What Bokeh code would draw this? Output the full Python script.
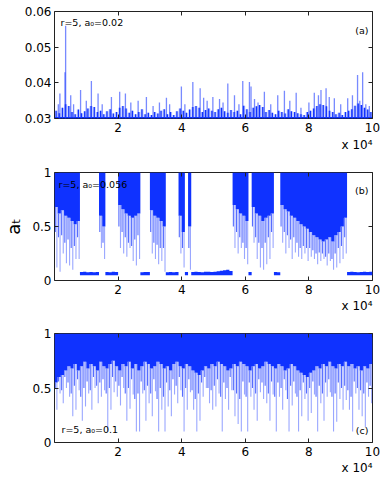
from bokeh.plotting import figure
from bokeh.models import Range1d, FixedTicker, LinearAxis, Label, ColumnDataSource, Title
from bokeh.layouts import column
from bokeh.embed import file_html
from bokeh.resources import INLINE

FONT = "DejaVu Sans"
DENSE = "#0f32ff"
SPIKE = "#1e3cff"

# time axis in units of 10^4 steps; each bin covers 1000 steps
bin_x = [i / 10 + 0.05 for i in range(100)]
bin_edges = [i / 10 for i in range(101)]
x_ticks = [2, 4, 6, 8, 10]

# ---------------- panel (a): r=5, a0=0.02 ----------------
a_floor = [
    0.0322, 0.0315, 0.0330, 0.0340, 0.0335, 0.0318, 0.0312, 0.0325, 0.0315, 0.0320,
    0.0328, 0.0335, 0.0332, 0.0318, 0.0322, 0.0312, 0.0320, 0.0326, 0.0314, 0.0318,
    0.0330, 0.0335, 0.0328, 0.0316, 0.0322, 0.0312, 0.0318, 0.0326, 0.0312, 0.0316,
    0.0310, 0.0318, 0.0314, 0.0322, 0.0326, 0.0312, 0.0318, 0.0310, 0.0320, 0.0328,
    0.0322, 0.0316, 0.0325, 0.0332, 0.0335, 0.0330, 0.0318, 0.0324, 0.0328, 0.0322,
    0.0318, 0.0326, 0.0330, 0.0320, 0.0316, 0.0324, 0.0318, 0.0322, 0.0312, 0.0336,
    0.0326, 0.0318, 0.0330, 0.0334, 0.0338, 0.0332, 0.0318, 0.0324, 0.0316, 0.0312,
    0.0322, 0.0318, 0.0314, 0.0326, 0.0320, 0.0318, 0.0315, 0.0312, 0.0310, 0.0318,
    0.0322, 0.0328, 0.0335, 0.0340, 0.0338, 0.0334, 0.0322, 0.0318, 0.0312, 0.0316,
    0.0310, 0.0318, 0.0322, 0.0326, 0.0336, 0.0342, 0.0338, 0.0330, 0.0325, 0.0318,
]
a_base = 0.0304
a_peak_x = [0.12, 0.17, 0.33, 0.35, 0.51, 0.60, 0.82, 1.00, 1.16, 1.37, 1.50, 1.79,
            2.05, 2.23, 2.40, 2.63, 2.89, 3.10, 3.30, 3.52, 3.62, 3.99, 4.10, 4.35,
            4.58, 4.69, 4.80, 4.98, 5.19, 5.30, 5.45, 5.66, 5.80, 5.92, 6.13, 6.18,
            6.29, 6.40, 6.60, 6.80, 7.02, 7.23, 7.40, 7.60, 7.75, 8.00, 8.17, 8.30,
            8.38, 8.54, 8.64, 8.80, 9.00, 9.22, 9.37, 9.53, 9.60, 9.69, 9.79, 9.90]
a_peak_y = [0.0340, 0.0370, 0.0430, 0.0560, 0.0365, 0.0340, 0.0380, 0.0350, 0.0405, 0.0370, 0.0340, 0.0360,
            0.0375, 0.0370, 0.0345, 0.0350, 0.0360, 0.0335, 0.0345, 0.0358, 0.0340, 0.0390, 0.0340, 0.0402,
            0.0385, 0.0358, 0.0350, 0.0360, 0.0355, 0.0345, 0.0398, 0.0365, 0.0340, 0.0405, 0.0402, 0.0390,
            0.0355, 0.0345, 0.0375, 0.0340, 0.0365, 0.0378, 0.0350, 0.0372, 0.0330, 0.0345, 0.0372, 0.0365,
            0.0380, 0.0385, 0.0360, 0.0357, 0.0340, 0.0357, 0.0365, 0.0422, 0.0350, 0.0430, 0.0340, 0.0335]

# ---------------- panel (b): r=5, a0=0.056 ----------------
b_top = [1, 1, 1, 1, 1, 1, 1, 1,
         0.078, 0.080, 0.076, 0.078, 0.077, 0.079,
         1, 1,
         0.078, 0.076, 0.080, 0.078,
         1, 1, 1, 1, 1, 1, 1,
         0.077, 0.078, 0.079,
         1, 1, 1, 1, 1,
         0.076, 0.078, 0.077, 0.079,
         1, 1,
         0.078,
         1,
         0.078, 0.080, 0.079, 0.077, 0.080, 0.082, 0.079, 0.081, 0.085, 0.090, 0.095, 0.100, 0.088,
         1, 1, 1, 1, 1,
         0.078,
         1, 1, 1, 1, 1, 1, 1,
         0.079, 0.077,
         1, 1, 1, 1, 1, 1, 1, 1, 1, 1, 1, 1, 1, 1, 1, 1, 1, 1, 1, 1, 1,
         0.078, 0.080, 0.078, 0.077, 0.079, 0.082, 0.078, 0.080]
b_low = [0.68, 0.62, 0.65, 0.60, 0.58, 0.55, 0.52, 0.55,
         0.048, 0.048, 0.048, 0.048, 0.048, 0.048,
         0.60, 0.50,
         0.048, 0.048, 0.048, 0.048,
         0.70, 0.66, 0.62, 0.60, 0.58, 0.60, 0.62,
         0.048, 0.048, 0.048,
         0.65, 0.60, 0.58, 0.55, 0.50,
         0.048, 0.048, 0.048, 0.048,
         0.60, 0.45,
         0.048,
         0.50,
         0.048, 0.048, 0.048, 0.048, 0.048, 0.048, 0.048, 0.048, 0.048, 0.048, 0.048, 0.048, 0.048,
         0.70, 0.66, 0.62, 0.60, 0.55,
         0.048,
         0.68, 0.62, 0.60, 0.55, 0.58, 0.60, 0.62,
         0.048, 0.048,
         0.70, 0.66, 0.64, 0.60, 0.58, 0.55, 0.52, 0.50, 0.48, 0.45, 0.42, 0.40, 0.38, 0.36, 0.38, 0.40, 0.36, 0.42, 0.45, 0.50, 0.58,
         0.048, 0.048, 0.048, 0.048, 0.048, 0.048, 0.048, 0.048]
b_mid = [0.45, 0.40, 0.42, 0.35, 0.38, 0.30, 0.32, 0.40,
         0.048, 0.048, 0.048, 0.048, 0.048, 0.048,
         0.45, 0.35,
         0.048, 0.048, 0.048, 0.048,
         0.50, 0.45, 0.40, 0.35, 0.32, 0.38, 0.42,
         0.048, 0.048, 0.048,
         0.45, 0.35, 0.33, 0.30, 0.30,
         0.048, 0.048, 0.048, 0.048,
         0.40, 0.30,
         0.048,
         0.30,
         0.048, 0.048, 0.048, 0.048, 0.048, 0.048, 0.048, 0.048, 0.048, 0.048, 0.048, 0.048, 0.048,
         0.50, 0.45, 0.40, 0.35, 0.30,
         0.048,
         0.50, 0.40, 0.35, 0.30, 0.35, 0.40, 0.45,
         0.048, 0.048,
         0.50, 0.45, 0.42, 0.38, 0.40, 0.35, 0.30, 0.32, 0.30, 0.30, 0.28, 0.25, 0.26, 0.25, 0.22, 0.25, 0.20, 0.25, 0.30, 0.32, 0.40,
         0.048, 0.048, 0.048, 0.048, 0.048, 0.048, 0.048, 0.048]
b_min = [0.12, 0.08, 0.25, 0.16, 0.14, 0.10, 0.20, 0.20,
         0.048, 0.048, 0.048, 0.048, 0.048, 0.048,
         0.30, 0.20,
         0.048, 0.048, 0.048, 0.048,
         0.30, 0.25, 0.22, 0.30, 0.18, 0.14, 0.20,
         0.048, 0.048, 0.048,
         0.25, 0.20, 0.15, 0.18, 0.08,
         0.048, 0.048, 0.048, 0.048,
         0.25, 0.12,
         0.048,
         0.10,
         0.048, 0.048, 0.048, 0.048, 0.048, 0.048, 0.048, 0.048, 0.048, 0.048, 0.048, 0.048, 0.048,
         0.30, 0.25, 0.30, 0.20, 0.15,
         0.048,
         0.35, 0.20, 0.12, 0.10, 0.15, 0.20, 0.30,
         0.048, 0.048,
         0.35, 0.25, 0.30, 0.20, 0.26, 0.22, 0.20, 0.25, 0.18, 0.22, 0.20, 0.15, 0.18, 0.20, 0.14, 0.18, 0.10, 0.12, 0.16, 0.20, 0.25,
         0.048, 0.048, 0.048, 0.048, 0.048, 0.048, 0.048, 0.048]

# ---------------- panel (c): r=5, a0=0.1 ----------------
c_top = [1.0] * 100
c_low = [0.55, 0.60, 0.62, 0.66,
         0.70, 0.68, 0.72, 0.66, 0.70, 0.74, 0.68,
         0.72, 0.70, 0.66, 0.74, 0.70, 0.68, 0.72, 0.75, 0.70, 0.66,
         0.72, 0.70, 0.74, 0.68, 0.72, 0.66, 0.70, 0.74, 0.72, 0.68,
         0.70, 0.74, 0.72, 0.68, 0.70, 0.66, 0.72, 0.74, 0.70, 0.68,
         0.72, 0.70, 0.66, 0.64, 0.62, 0.66, 0.70, 0.68, 0.72, 0.70,
         0.74, 0.72, 0.70, 0.66, 0.68, 0.72, 0.70, 0.74, 0.72, 0.70,
         0.66, 0.70, 0.72, 0.68, 0.70, 0.74, 0.72, 0.70, 0.68, 0.72,
         0.70, 0.66, 0.68, 0.72, 0.70, 0.66, 0.64, 0.62, 0.60, 0.64,
         0.66, 0.70, 0.68, 0.72, 0.70, 0.74, 0.70, 0.68, 0.72, 0.70,
         0.74, 0.70, 0.72, 0.68, 0.70, 0.66, 0.70, 0.68, 0.72]
c_mid = [0.50, 0.56, 0.48, 0.60, 0.55, 0.45, 0.52, 0.58, 0.42, 0.50,
         0.56, 0.48, 0.60, 0.52, 0.55, 0.58, 0.45, 0.50, 0.60, 0.56,
         0.52, 0.60, 0.45, 0.50, 0.58, 0.40, 0.45, 0.56, 0.48, 0.52,
         0.45, 0.58, 0.40, 0.50, 0.42, 0.55, 0.48, 0.58, 0.52, 0.60,
         0.42, 0.50, 0.58, 0.48, 0.40, 0.45, 0.55, 0.60, 0.50, 0.48,
         0.52, 0.58, 0.42, 0.55, 0.50, 0.60, 0.48, 0.45, 0.40, 0.56,
         0.42, 0.55, 0.50, 0.45, 0.58, 0.55, 0.52, 0.45, 0.56, 0.42,
         0.55, 0.50, 0.58, 0.40, 0.52, 0.56, 0.42, 0.48, 0.55, 0.45,
         0.50, 0.56, 0.42, 0.52, 0.45, 0.55, 0.58, 0.42, 0.45, 0.55,
         0.50, 0.52, 0.48, 0.42, 0.56, 0.50, 0.48, 0.45, 0.55, 0.52]
c_min = [0.30, 0.45, 0.36, 0.50, 0.42, 0.24, 0.30, 0.48, 0.20, 0.33,
         0.45, 0.30, 0.50, 0.36, 0.42, 0.48, 0.10, 0.30, 0.46, 0.42,
         0.34, 0.50, 0.20, 0.31, 0.44, 0.10, 0.10, 0.45, 0.20, 0.36,
         0.24, 0.47, 0.10, 0.30, 0.10, 0.33, 0.24, 0.44, 0.36, 0.48,
         0.10, 0.30, 0.46, 0.30, 0.10, 0.20, 0.42, 0.50, 0.36, 0.30,
         0.33, 0.45, 0.10, 0.40, 0.30, 0.48, 0.24, 0.17, 0.10, 0.44,
         0.10, 0.42, 0.30, 0.20, 0.46, 0.40, 0.36, 0.20, 0.44, 0.10,
         0.42, 0.30, 0.48, 0.10, 0.34, 0.45, 0.10, 0.24, 0.40, 0.20,
         0.27, 0.44, 0.10, 0.36, 0.20, 0.42, 0.46, 0.10, 0.19, 0.40,
         0.30, 0.39, 0.30, 0.10, 0.45, 0.30, 0.24, 0.14, 0.42, 0.36]


def panel(height, top, bottom, y0, y1, yticks, ylabels, title_standoff):
    p = figure(width=382, height=height, x_range=Range1d(0, 10), y_range=Range1d(y0, y1),
               output_backend="svg", toolbar_location=None,
               min_border_left=53, min_border_right=10, min_border_top=top, min_border_bottom=bottom)
    p.grid.visible = False
    p.outline_line_color = "#222222"
    p.outline_line_width = 1
    p.background_fill_color = "white"
    p.border_fill_color = "white"
    for ax in p.xaxis:
        ax.ticker = FixedTicker(ticks=x_ticks)
        ax.major_label_standoff = 4
    for ax in p.yaxis:
        ax.ticker = FixedTicker(ticks=yticks)
        ax.major_label_overrides = ylabels
        ax.major_label_standoff = 3
    for ax in list(p.xaxis) + list(p.yaxis):
        ax.major_tick_in = 4
        ax.major_tick_out = 0
        ax.minor_tick_line_color = None
        ax.axis_line_color = None
        ax.major_tick_line_color = "#222222"
        ax.major_label_text_font = FONT
        ax.major_label_text_font_size = "12px"
        ax.major_label_text_color = "black"
    for loc, tk in (("right", yticks), ("above", x_ticks)):
        m = LinearAxis(ticker=FixedTicker(ticks=tk), major_tick_in=4, major_tick_out=0,
                       minor_tick_line_color=None, axis_line_color=None,
                       major_tick_line_color="#222222", major_label_text_font_size="0px",
                       major_label_standoff=0)
        m.major_label_overrides = {t: "" for t in tk}
        p.add_layout(m, loc)
    p.add_layout(Title(text="x 10⁴", align="right", text_font=FONT, text_font_size="12px",
                       text_font_style="normal", text_color="black", standoff=title_standoff), "below")
    return p


def ann(p, text, x, y, x_units="screen", y_units="screen", align="left", size="9.5px", x_offset=0):
    p.add_layout(Label(x=x, y=y, x_units=x_units, y_units=y_units, text=text, text_align=align,
                       text_baseline="middle", text_font=FONT, text_font_size=size,
                       text_color="black", x_offset=x_offset))


def stepped(values):
    # per-bin values held over each bin, closed at the right edge
    return list(values) + [values[-1]]


# panel (a)
pa = panel(160, 11, 42, 0.03, 0.06, [0.03, 0.04, 0.05, 0.06],
           {0.03: "0.03", 0.04: "0.04", 0.05: "0.05", 0.06: "0.06"}, 3)
src_a_area = ColumnDataSource(dict(x=bin_edges, y=stepped(a_floor), base=[0.03] * 101, b2=[a_base] * 101))
pa.varea_step(x="x", y1="base", y2="y", step_mode="after", source=src_a_area, fill_color=DENSE, fill_alpha=0.22)
pa.varea_step(x="x", y1="base", y2="b2", step_mode="after", source=src_a_area, fill_color=DENSE)
src_a = ColumnDataSource(dict(x=bin_x, y=a_floor, base=[0.03] * len(bin_x)))
pa.segment(x0="x", y0="base", x1="x", y1="y", source=src_a, line_color=DENSE, line_width=1.3)
src_ap = ColumnDataSource(dict(x=a_peak_x, y=a_peak_y, base=[0.03] * len(a_peak_x)))
pa.segment(x0="x", y0="base", x1="x", y1="y", source=src_ap, line_color=SPIKE, line_alpha=0.6, line_width=1.3)
ann(pa, "r=5, a₀=0.02", 6, 96)
ann(pa, "(a)", 10, 88, x_units="data", align="right", x_offset=-4)


def chaotic(p, top, low, mid, mn):
    src = ColumnDataSource(dict(x=bin_x, low=low, mid=mid, mn=mn,
                                xm=[v - 0.025 for v in bin_x], xn=[v + 0.025 for v in bin_x]))
    p.segment(x0="xn", y0="mn", x1="xn", y1="low", source=src, line_color=SPIKE, line_alpha=0.45, line_width=1.1)
    p.segment(x0="xm", y0="mid", x1="xm", y1="low", source=src, line_color=SPIKE, line_alpha=0.75, line_width=1.1)
    area = ColumnDataSource(dict(x=bin_edges, top=stepped(top), low=stepped(low)))
    p.varea_step(x="x", y1="low", y2="top", step_mode="after", source=area, fill_color=DENSE)


# panel (b)
pb = panel(153, 12, 33, 0, 1, [0, 0.5, 1], {0: "0", 0.5: "0.5", 1: "1"}, 1)
chaotic(pb, b_top, b_low, b_mid, b_min)
ann(pb, "r=5, a₀=0.056", 4, 96)
ann(pb, "(b)", 10, 90, x_units="data", align="right", x_offset=-4)
pb.yaxis[0].axis_label = "aₜ"
pb.yaxis[0].axis_label_text_font = FONT
pb.yaxis[0].axis_label_text_font_size = "18px"
pb.yaxis[0].axis_label_text_font_style = "normal"
pb.yaxis[0].axis_label_text_color = "black"
pb.yaxis[0].axis_label_standoff = 5

# panel (c)
pc = panel(166, 20, 37, 0, 1, [0, 0.5, 1], {0: "0", 0.5: "0.5", 1: "1"}, 1)
chaotic(pc, c_top, c_low, c_mid, c_min)
ann(pc, "r=5, a₀=0.1", 7, 13)
ann(pc, "(c)", 10, 12, x_units="data", align="right", x_offset=-4)

layout = column(pa, pb, pc, spacing=0)
open("out.html", "w").write(file_html(layout, INLINE))
